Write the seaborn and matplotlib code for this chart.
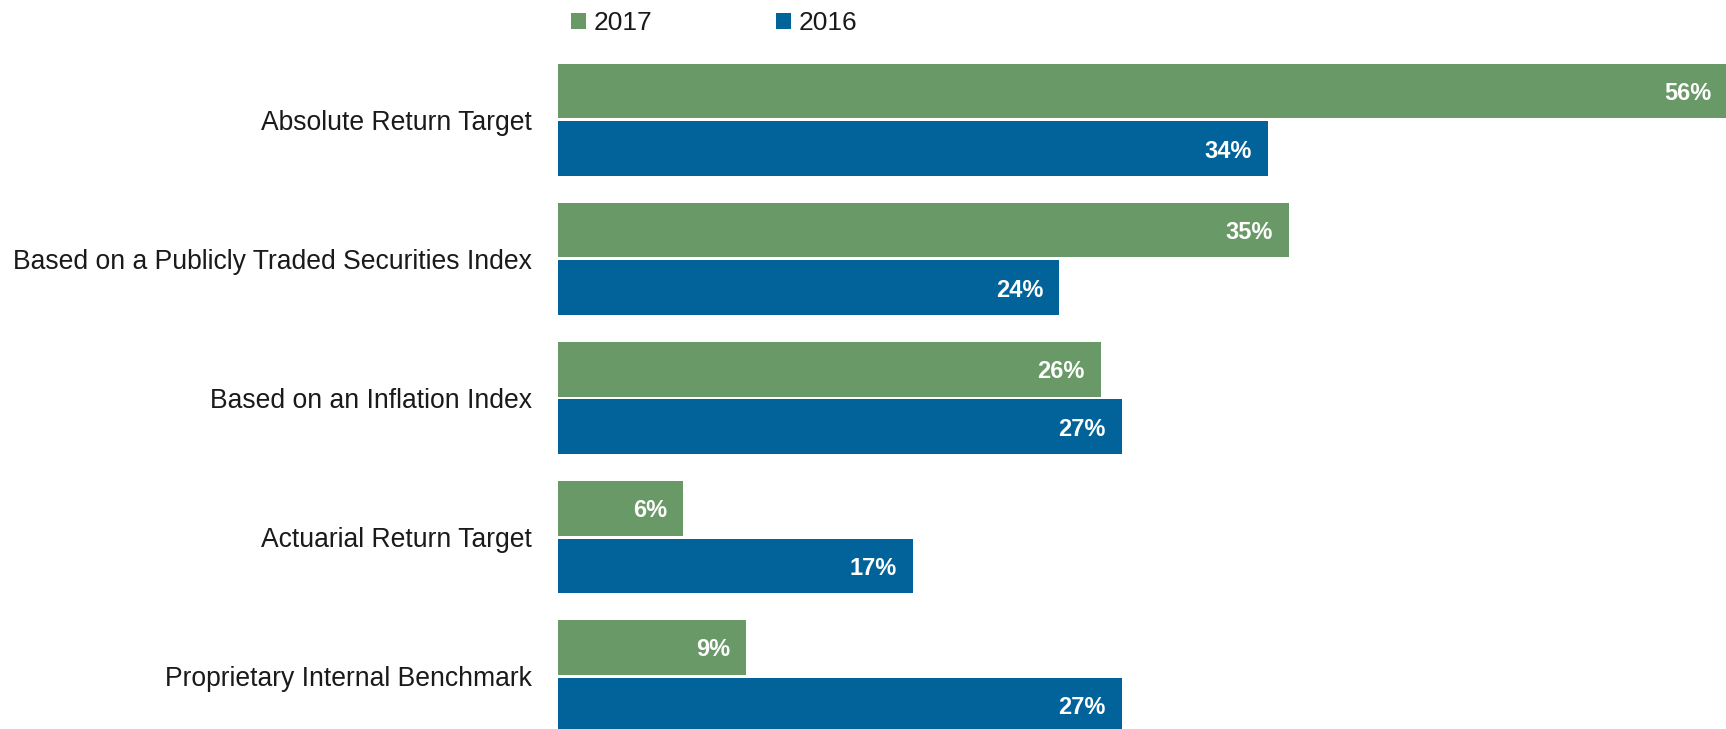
import matplotlib
matplotlib.use("Agg")
import matplotlib.pyplot as plt
import seaborn as sns
import pandas as pd

# Benchmark types and survey shares (%) by year
categories = [
    "Absolute Return Target",
    "Based on a Publicly Traded Securities Index",
    "Based on an Inflation Index",
    "Actuarial Return Target",
    "Proprietary Internal Benchmark",
]
years = ["2017", "2016"]
values_2017 = [56, 35, 26, 6, 9]
values_2016 = [34, 24, 27, 17, 27]

colors = {"2017": "#689966", "2016": "#02639A"}

df = pd.DataFrame({
    "Category": categories * 2,
    "Year": ["2017"] * len(categories) + ["2016"] * len(categories),
    "Value": values_2017 + values_2016,
})

sns.set_theme(style="white")
plt.rcParams["font.family"] = ["Liberation Sans", "DejaVu Sans"]

W, H = 1726, 729
fig = plt.figure(figsize=(W / 100, H / 100), dpi=100)
ax = fig.add_axes([558 / W, 0, (W - 558) / W, 1])

sns.barplot(
    data=df, y="Category", x="Value", hue="Year", hue_order=years,
    order=categories, orient="h", palette=colors, width=0.827, gap=0.052,
    linewidth=0, saturation=1, ax=ax, legend=True,
)

ax.set_xlim(0, 55.94)
ax.set_ylim(4.381, -0.863)
ax.set_xlabel("")
ax.set_ylabel("")
ax.set_xticks([])
for s in ax.spines.values():
    s.set_visible(False)
ax.tick_params(axis="y", length=0, pad=18.7, labelsize=19.1, labelcolor="#1a1a1a")

# Value labels, right-aligned inside the end of each bar
for container in ax.containers:
    for patch in container:
        v = patch.get_width()
        yc = patch.get_y() + patch.get_height() / 2
        ax.annotate(f"{v:.0f}%", xy=(v, yc), xytext=(-16, 0),
                    textcoords="offset pixels", ha="right", va="center_baseline",
                    color="white", fontsize=17, fontweight="bold",
                    annotation_clip=False)

handles, labels = ax.get_legend_handles_labels()
ax.legend_.remove()
fig.legend(
    handles, labels, loc="center left", bbox_to_anchor=(571 / W, 1 - 23 / H),
    bbox_transform=fig.transFigure, ncol=2, frameon=False, fontsize=19,
    handlelength=0.55, handleheight=0.55, handletextpad=0.3, columnspacing=4.7,
    borderpad=0, borderaxespad=0, labelcolor="#1a1a1a",
)

fig.savefig("out.png", dpi=100)
